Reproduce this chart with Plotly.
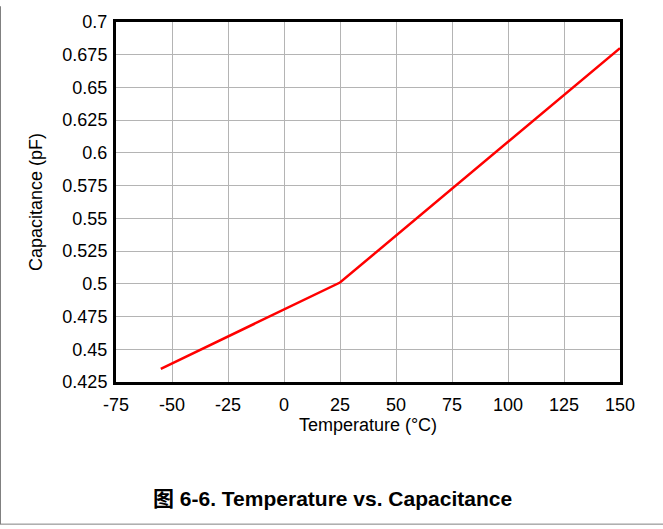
import plotly.graph_objects as go

temperature = [-55, 25, 150]
capacitance = [0.435, 0.501, 0.680]

x_ticks = [-75, -50, -25, 0, 25, 50, 75, 100, 125, 150]
x_tick_text = ["-75", "-50", "-25", "0", "25", "50", "75", "100", "125", "150"]
y_ticks = [0.425, 0.45, 0.475, 0.5, 0.525, 0.55, 0.575, 0.6, 0.625, 0.65, 0.675, 0.7]
y_tick_text = ["0.425", "0.45", "0.475", "0.5", "0.525", "0.55", "0.575", "0.6", "0.625", "0.65", "0.675", "0.7"]

W, H = 663, 529
L, R, T, B = 116, 620, 16, 382
pw, ph = R - L, B - T

def px(x):
    return (x - L) / pw

def py(y):
    return (B - y) / ph

fig = go.Figure()
fig.add_trace(go.Scatter(x=temperature, y=capacitance, mode="lines",
                         line=dict(color="#ff0000", width=2.5), showlegend=False,
                         hoverinfo="skip"))

font = dict(family="Liberation Sans, Arial, sans-serif", size=18, color="#000000")

fig.update_layout(
    width=W, height=H,
    margin=dict(l=L, r=W - R, t=T, b=H - B),
    paper_bgcolor="white", plot_bgcolor="white",
    font=font,
    xaxis=dict(range=[-75, 150], tickvals=x_ticks, ticktext=x_tick_text, showgrid=True,
               gridcolor="#b4b4b4", gridwidth=1,
               showline=True, linecolor="black", linewidth=3, mirror=True, ticks="",
               ticklabelstandoff=4,
               zeroline=False, title=dict(text="Temperature (°C)", standoff=4, font=font),
               tickfont=font),
    yaxis=dict(range=[0.425, 0.7], tickvals=y_ticks, ticktext=y_tick_text, showgrid=True,
               gridcolor="#b4b4b4", gridwidth=1, showline=True, linecolor="black", linewidth=3,
               mirror=True, ticks="", zeroline=False, ticklabelstandoff=2,
               title=dict(text="Capacitance (pF)", standoff=16, font=font), tickfont=font),
    annotations=[dict(text="<b>图 6-6. Temperature vs. Capacitance</b>", xref="paper", yref="paper",
                      x=px(332), y=py(500), xanchor="center", yanchor="middle", showarrow=False,
                      font=dict(family="Liberation Sans, Arial, Noto Sans CJK SC, sans-serif",
                                size=21, color="black"))],
    shapes=[
        dict(type="line", xref="paper", yref="paper", x0=px(0.5), x1=px(0.5), y0=py(0), y1=py(526.5),
             line=dict(color="#808080", width=1)),
        dict(type="line", xref="paper", yref="paper", x0=px(0), x1=px(663), y0=py(526.5), y1=py(526.5),
             line=dict(color="#808080", width=1)),
    ],
)

fig.write_html("out.html", config={"displayModeBar": False},
               post_script="document.body.style.margin='0';document.body.style.overflow='hidden';")
